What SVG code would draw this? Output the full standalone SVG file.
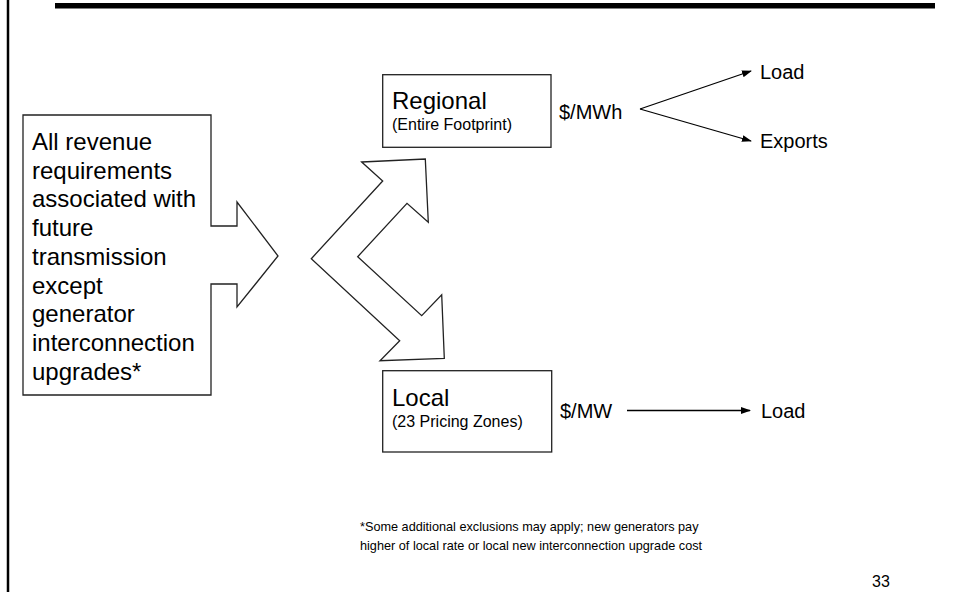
<svg xmlns="http://www.w3.org/2000/svg" width="956" height="592" viewBox="0 0 956 592">
<style>
.t{font-family:"Liberation Sans",Arial,sans-serif;fill:#000}
.shape{fill:#fff;stroke:#222;stroke-width:1.3;stroke-linejoin:miter}
.con{fill:none;stroke:#000;stroke-width:1.3}
</style>
<defs>
<marker id="ah" markerUnits="userSpaceOnUse" markerWidth="10" markerHeight="8" refX="9" refY="4" orient="auto">
<path d="M0,0.5 L10,4 L0,7.5 Z" fill="#000"/>
</marker>
</defs>
<rect x="0" y="0" width="956" height="592" fill="#fff"/>
<rect x="55" y="3" width="880" height="5.5" fill="#000"/>
<line x1="8" y1="0" x2="8" y2="592" stroke="#000" stroke-width="2.5"/>

<g id="source">
<path class="shape" d="M23,115 L211,115 L211,226 L237,226 L237,202 L278,256 L237,307 L237,284 L211,284 L211,395 L23,395 Z"/>
<text class="t" font-size="24" x="32">
<tspan x="32" y="150">All revenue</tspan>
<tspan x="32" y="179">requirements</tspan>
<tspan x="32" y="207">associated with</tspan>
<tspan x="32" y="236">future</tspan>
<tspan x="32" y="265">transmission</tspan>
<tspan x="32" y="294">except</tspan>
<tspan x="32" y="322">generator</tspan>
<tspan x="32" y="351">interconnection</tspan>
<tspan x="32" y="380">upgrades*</tspan>
</text>
</g>

<g id="split-arrow">
<path class="shape" d="M361.7,162 L425.3,159 L428.3,222.3 L407,203.3 L357.7,256.7 L421.7,315.7 L441.7,294.7 L444.3,358.3 L380,360.7 L399.7,340.7 L311.3,258.7 L382.7,181 Z"/>
</g>

<g id="regional">
<rect class="shape" x="382.7" y="74.7" width="168.3" height="72.6"/>
<text class="t" font-size="24" x="392" y="109">Regional</text>
<text class="t" font-size="16" x="392" y="130">(Entire Footprint)</text>
</g>

<g id="local">
<rect class="shape" x="382.7" y="370.7" width="169" height="81.3"/>
<text class="t" font-size="24" x="392" y="406">Local</text>
<text class="t" font-size="16" x="392" y="427">(23 Pricing Zones)</text>
</g>

<g id="mwh"><text class="t" font-size="20" x="559" y="118.5">$/MWh</text></g>
<g id="mw"><text class="t" font-size="20" x="560" y="418">$/MW</text></g>
<g id="load1"><text class="t" font-size="20" x="760" y="79">Load</text></g>
<g id="exports"><text class="t" font-size="20" x="760" y="148">Exports</text></g>
<g id="load2"><text class="t" font-size="20" x="761" y="418">Load</text></g>

<g id="connectors">
<line class="con" x1="640" y1="109" x2="751" y2="71" marker-end="url(#ah)"/>
<line class="con" x1="640" y1="109" x2="751" y2="141" marker-end="url(#ah)"/>
<line class="con" x1="627" y1="410.5" x2="750" y2="410.5" marker-end="url(#ah)"/>
</g>

<g id="footnote">
<text class="t" font-size="12.7" x="360" y="531">*Some additional exclusions may apply; new generators pay</text>
<text class="t" font-size="12.7" x="360" y="550">higher of local rate or local new interconnection upgrade cost</text>
</g>
<text class="t" font-size="16" x="872" y="587">33</text>
</svg>
